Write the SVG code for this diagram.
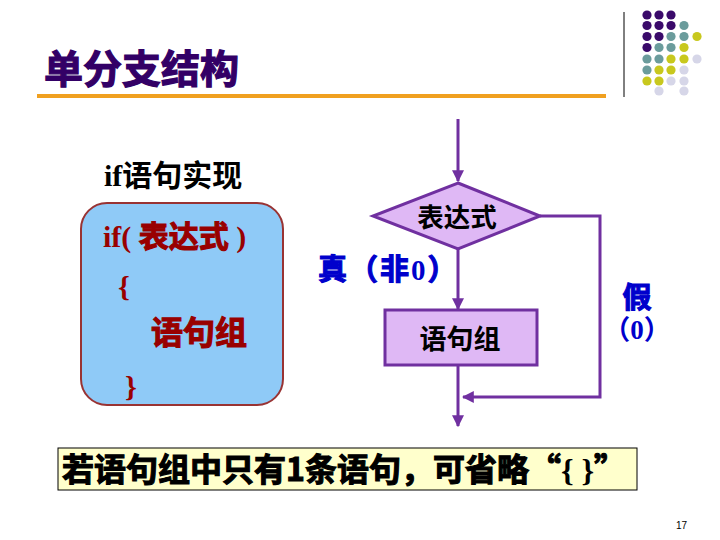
<svg xmlns="http://www.w3.org/2000/svg" width="720" height="540" viewBox="0 0 720 540">
<defs>
<style>
.title{font-family:"Noto Sans CJK SC","Liberation Sans",sans-serif;font-weight:bold;font-size:39px;fill:#330066;stroke:#330066;stroke-width:1.2}
.serif{font-family:"Liberation Serif","Noto Serif CJK SC","Noto Sans CJK SC",serif;font-weight:bold}
.cjk{font-family:"Noto Sans CJK SC","Liberation Sans",sans-serif;font-weight:bold}
.heavy{stroke-width:1.1;stroke:currentColor}
.red{fill:#990000;color:#990000}
.blue{fill:#0000cc;color:#0000cc}
.line{stroke:#7030a0;stroke-width:3;fill:none}
.pd{fill:#3a0a6a}.tl{fill:#6b9c9c}.yl{fill:#c8c81e}.lv{fill:#d6d6e8}
</style>
<marker id="arr" viewBox="0 0 10 10" refX="9" refY="5" markerWidth="4" markerHeight="4" orient="auto-start-reverse" markerUnits="strokeWidth">
<path d="M0,0 L10,5 L0,10 z" fill="#7030a0"/>
</marker>
</defs>
<rect width="720" height="540" fill="#ffffff"/>

<g id="header">
<text class="title" x="44" y="83">单分支结构</text>
<rect x="37" y="94" width="569" height="4" fill="#f0a020"/>
<line x1="624" y1="12" x2="624" y2="97" stroke="#000" stroke-width="1"/>
<g id="dots">
<circle class="pd" cx="647" cy="15" r="4.6"/><circle class="pd" cx="659" cy="15" r="4.6"/><circle class="pd" cx="671" cy="15" r="4.6"/>
<circle class="pd" cx="647" cy="25.5" r="4.6"/><circle class="pd" cx="659" cy="25.5" r="4.6"/><circle class="pd" cx="671" cy="25.5" r="4.6"/><circle class="tl" cx="684" cy="25.5" r="4.6"/>
<circle class="pd" cx="647" cy="36.5" r="4.6"/><circle class="pd" cx="659" cy="36.5" r="4.6"/><circle class="tl" cx="671" cy="36.5" r="4.6"/><circle class="tl" cx="684" cy="36.5" r="4.6"/><circle class="yl" cx="697" cy="36.5" r="4.6"/>
<circle class="pd" cx="647" cy="47.5" r="4.6"/><circle class="tl" cx="659" cy="47.5" r="4.6"/><circle class="tl" cx="671" cy="47.5" r="4.6"/><circle class="yl" cx="684" cy="47.5" r="4.6"/>
<circle class="tl" cx="647" cy="59" r="4.6"/><circle class="tl" cx="659" cy="59" r="4.6"/><circle class="yl" cx="671" cy="59" r="4.6"/><circle class="yl" cx="684" cy="59" r="4.6"/><circle class="lv" cx="697" cy="59" r="4.6"/>
<circle class="tl" cx="647" cy="70" r="4.6"/><circle class="yl" cx="659" cy="70" r="4.6"/><circle class="yl" cx="671" cy="70" r="4.6"/><circle class="lv" cx="684" cy="70" r="4.6"/>
<circle class="yl" cx="647" cy="81" r="4.6"/><circle class="yl" cx="659" cy="81" r="4.6"/><circle class="lv" cx="671" cy="81" r="4.6"/><circle class="lv" cx="684" cy="81" r="4.6"/>
<circle class="lv" cx="659" cy="91" r="4.6"/><circle class="lv" cx="684" cy="91" r="4.6"/>
</g>
</g>

<g id="code-label">
<text x="104" y="186" font-size="30" fill="#000"><tspan class="serif">if</tspan><tspan class="cjk">语句实现</tspan></text>
</g>

<g id="code-box">
<rect x="81" y="203" width="202" height="202" rx="26" fill="#8fcaf7" stroke="#993333" stroke-width="2"/>
<text x="103" y="247" font-size="30" class="red"><tspan class="serif">if( </tspan><tspan class="cjk heavy">表达式</tspan><tspan class="serif"> )</tspan></text>
<text class="serif red" x="118" y="297" font-size="30">{</text>
<text class="cjk red heavy" x="151" y="344" font-size="32">语句组</text>
<text class="serif red" x="125" y="397" font-size="30">}</text>
</g>

<g id="connectors">
<line class="line" x1="458" y1="119" x2="458" y2="181" marker-end="url(#arr)"/>
<line class="line" x1="458" y1="248" x2="458" y2="309" marker-end="url(#arr)"/>
<polyline class="line" points="540,216 600,216 600,397 463,397" marker-end="url(#arr)"/>
<line class="line" x1="458" y1="365" x2="458" y2="426" marker-end="url(#arr)"/>
</g>

<g id="decision">
<polygon points="458,183 540,216 458,249 373,216" fill="#dfb8f5" stroke="#7030a0" stroke-width="3"/>
<text class="cjk" x="457" y="227" font-size="26.5" text-anchor="middle" fill="#000">表达式</text>
</g>

<g id="statement">
<rect x="385" y="310" width="152" height="55" fill="#dfb8f5" stroke="#7030a0" stroke-width="3"/>
<text class="cjk" x="460" y="349" font-size="27" text-anchor="middle" fill="#000">语句组</text>
</g>

<g id="labels">
<text x="318" y="280" font-size="29" class="blue" letter-spacing="2"><tspan class="cjk heavy">真（非</tspan><tspan class="serif">0</tspan><tspan class="cjk heavy">）</tspan></text>
<text class="cjk blue heavy" x="637" y="308" font-size="29" text-anchor="middle">假</text>
<text x="637" y="339" font-size="27" text-anchor="middle" class="blue"><tspan class="cjk">（</tspan><tspan class="serif">0</tspan><tspan class="cjk">）</tspan></text>
</g>

<g id="note">
<rect x="58" y="448" width="579" height="42" fill="#ffffcc" stroke="#000" stroke-width="1"/>
<text x="62" y="481" font-size="32" fill="#000" color="#000"><tspan class="cjk heavy">若语句组中只有1条语句，可省略“</tspan><tspan class="serif" font-weight="normal">{ }</tspan><tspan class="cjk heavy">”</tspan></text>
</g>

<text x="676" y="529" font-family="Liberation Sans, sans-serif" font-size="10" fill="#000">17</text>
</svg>
